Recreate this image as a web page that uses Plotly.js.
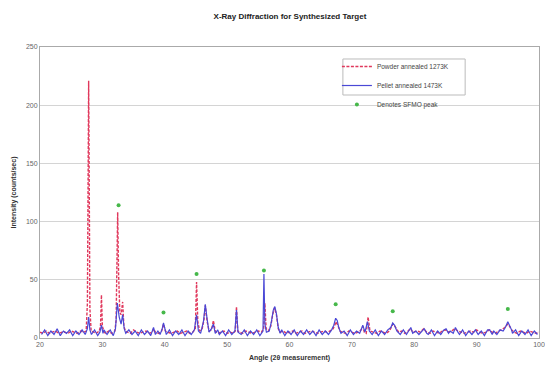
<!DOCTYPE html>
<html><head><meta charset="utf-8">
<script src="https://cdn.plot.ly/plotly-3.0.1.min.js"></script>
<style>html,body{margin:0;padding:0;background:#fff}#chart{width:545px;height:370px}</style>
</head><body><div id="chart"></div>
<script>
const powderAngle = [20,20.5,21,21.5,22,22.5,23,23.5,24,24.5,25,25.5,26,26.5,27,27.4,27.6,27.8,28.0,28.2,28.5,29,29.5,29.7,29.85,30.0,30.3,30.5,31,31.5,32,32.2,32.35,32.45,32.6,32.8,33.0,33.25,33.45,33.7,34,34.5,35,35.5,36,36.5,37,37.5,38,38.2,38.5,39,39.5,39.8,40.1,40.5,41,41.5,42,42.5,43,43.5,44,44.5,44.9,45.1,45.3,45.6,46,46.3,46.5,46.8,47.1,47.5,47.8,48.1,48.5,49,49.5,50,50.5,51,51.3,51.5,51.7,52,52.5,53,53.5,54,54.5,55,55.5,55.85,56.05,56.25,56.6,57,57.3,57.6,57.9,58.2,58.5,59,59.5,60,60.5,61,61.5,62,62.5,63,63.5,64,64.5,65,65.5,66,66.5,67,67.3,67.5,67.8,68.1,68.5,69,69.5,70,70.5,71,71.5,71.75,72,72.3,72.6,72.9,73.3,73.5,74,74.5,75,75.5,76,76.3,76.6,76.9,77.2,77.5,78,78.5,79,79.4,79.8,80.5,81,81.5,82,82.5,83,83.5,84,84.5,85,85.5,86,86.5,87,87.5,88,88.5,89,89.5,90,90.5,91,91.5,92,92.5,93,93.5,94,94.5,95,95.3,95.6,96,96.5,97,97.5,98,98.5,99,99.5,100];
const powderIntensity = [5,4,6,4,5,6,4,5,5,4,6,5,4,6,5,6,30,221,25,6,5,4,6,10,37,10,5,4,6,4,6,15,70,108,55,22,20,31,10,6,5,4,7,5,4,5,6,4,5,8,5,4,6,12,6,5,4,5,6,4,5,6,4,5,8,48,14,6,8,16,28,14,6,7,15,6,4,5,6,4,5,4,6,27,6,5,4,6,5,4,5,6,5,8,30,8,6,10,20,26,20,8,5,6,4,5,6,4,5,6,4,5,6,5,4,5,6,5,6,8,12,14,10,6,5,4,6,5,4,5,7,10,5,4,18,6,5,5,4,6,5,4,6,9,12,10,7,5,6,4,6,8,5,6,5,8,5,4,6,5,4,6,7,5,6,8,6,5,4,5,6,5,7,5,4,5,7,5,4,6,7,9,12,10,7,5,4,6,5,4,6,5,4,5];
const pelletAngle = [20.25,20.75,21.25,21.75,22.25,22.75,23.25,23.75,24.25,24.75,25.25,25.75,26.25,26.75,27.25,27.6,27.8,28.0,28.25,28.75,29.25,29.6,29.85,30.1,30.25,30.75,31.25,31.75,32.1,32.4,32.7,33.0,33.25,33.5,33.75,34.25,34.75,35.25,35.75,36.25,36.75,37.25,37.75,38.2,38.5,38.9,39.25,39.6,39.8,40.0,40.25,40.75,41.25,41.75,42.25,42.75,43.25,43.75,44.25,44.75,45.1,45.4,45.75,46.2,46.5,46.8,47.1,47.5,47.8,48.1,48.5,48.75,49.25,49.75,50.25,50.75,51.25,51.5,51.75,52.25,52.75,53.25,53.75,54.25,54.75,55.25,55.75,55.9,56.05,56.3,56.75,57.1,57.4,57.65,57.9,58.2,58.5,58.75,59.25,59.75,60.25,60.75,61.25,61.75,62.25,62.75,63.25,63.75,64.25,64.75,65.25,65.75,66.25,66.75,67.1,67.4,67.65,67.9,68.25,68.75,69.25,69.75,70.25,70.75,71.25,71.75,72.1,72.5,72.8,73.25,73.75,74.25,74.75,75.25,75.75,76.25,76.55,76.85,77.2,77.75,78.25,78.75,79.2,79.45,79.75,80.25,80.75,81.25,81.6,82.0,82.25,82.75,83.25,83.75,84.25,84.75,85.1,85.5,85.75,86.25,86.6,87.0,87.25,87.75,88.25,88.75,89.25,89.8,90.25,90.75,91.25,91.75,92.1,92.5,92.75,93.25,93.75,94.25,94.6,95.0,95.3,95.6,95.75,96.25,96.75,97.25,97.75,98.25,98.75,99.25,99.75];
const pelletIntensity = [3,7,2,6,3,8,2,6,4,7,2,6,3,7,3,8,18,7,3,7,2,5,11,4,7,3,7,2,8,30,18,12,20,8,4,7,3,6,2,7,3,6,2,9,3,6,3,8,13,8,3,7,2,6,3,7,2,6,3,7,20,6,4,14,29,16,5,8,12,4,7,3,6,2,7,3,6,24,5,3,7,2,6,3,7,2,6,55,12,5,6,14,24,27,21,9,4,7,2,6,3,7,2,6,3,7,3,6,2,7,3,6,3,7,11,17,15,9,4,6,2,7,3,6,4,11,5,14,6,3,7,2,6,3,7,9,13,11,6,3,7,3,7,9,4,6,3,6,8,4,3,7,2,6,3,7,8,4,6,4,9,5,3,7,2,6,3,7,3,6,2,7,7,3,6,3,7,6,9,14,11,7,4,7,2,6,3,7,2,6,3];
const sfmoAngle = [32.6,39.8,45.1,55.9,67.4,76.55,95.0];
const sfmoIntensity = [114,22,55,58,29,23,25];
const xTicks = [20,30,40,50,60,70,80,90,100];
const yTicks = [0,50,100,150,200,250];

const font = "Liberation Sans, Arial, sans-serif";
const traces = [
  {x: powderAngle, y: powderIntensity, type: 'scatter', mode: 'lines', name: 'Powder annealed 1273K',
   line: {color: '#e0385c', width: 1.4, dash: '3px,1.5px'}},
  {x: pelletAngle, y: pelletIntensity, type: 'scatter', mode: 'lines', name: 'Pellet annealed 1473K',
   line: {color: '#4a48d6', width: 1.2}},
  {x: sfmoAngle, y: sfmoIntensity, type: 'scatter', mode: 'markers', name: 'Denotes SFMO peak',
   marker: {color: '#46b84a', size: 4}}
];
const layout = {
  width: 545, height: 370,
  margin: {l: 40, r: 6, t: 47, b: 32},
  paper_bgcolor: '#fff', plot_bgcolor: '#fff',
  font: {family: font, size: 7, color: '#555'},
  title: {text: '<b>X-Ray Diffraction for Synthesized Target</b>', font: {family: font, size: 8, color: '#222'},
          x: 0.532, xanchor: 'center', y: 0.955, yanchor: 'middle'},
  xaxis: {range: [20, 100], tickvals: xTicks, showgrid: false, zeroline: false,
          showline: true, linecolor: '#aaa', mirror: true, ticks: '',
          tickfont: {family: font, size: 7, color: '#666'},
          title: {text: '<b>Angle (2θ measurement)</b>', font: {family: font, size: 7, color: '#333'}, standoff: 7}},
  yaxis: {range: [0, 250], tickvals: yTicks, showgrid: true, gridcolor: '#d4d4d4', zeroline: false,
          showline: true, linecolor: '#aaa', mirror: true, ticks: '',
          tickfont: {family: font, size: 7, color: '#666'},
          title: {text: '<b>Intensity (counts/sec)</b>', font: {family: font, size: 7, color: '#333'}, standoff: 8}},
  legend: {x: 0.595, y: 0.9828, xanchor: 'left', yanchor: 'top', bgcolor: 'rgba(0,0,0,0)', borderwidth: 0,
           font: {family: font, size: 6.5, color: '#444'}, itemwidth: 30, tracegroupgap: 0},
  shapes: [{type: 'rect', xref: 'paper', yref: 'paper', x0: 0.607, x1: 0.852, y0: 0.835, y1: 0.9588,
            line: {color: '#bbb', width: 1}, fillcolor: 'rgba(0,0,0,0)', layer: 'below'}],
  showlegend: true
};
Plotly.newPlot('chart', traces, layout, {displayModeBar: false, staticPlot: true});
</script></body></html>
